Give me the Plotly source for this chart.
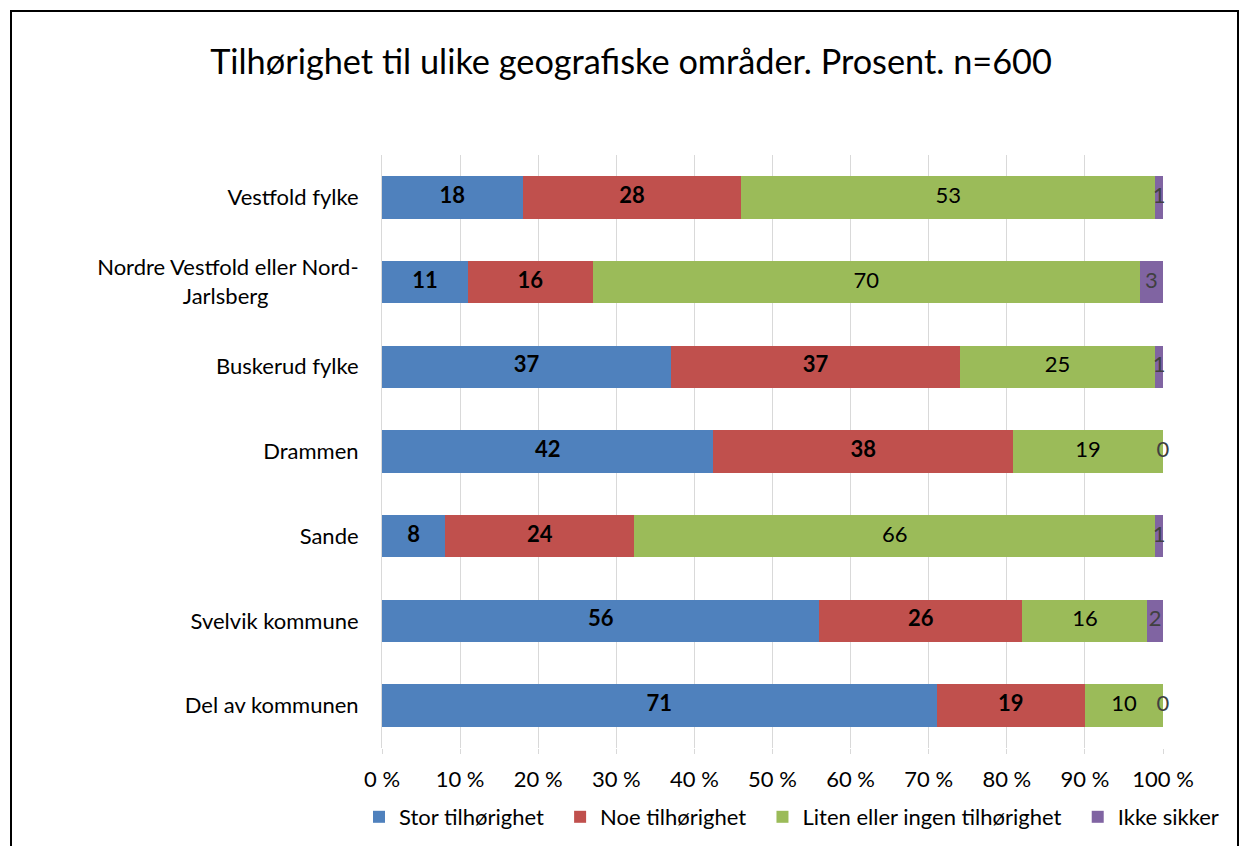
import plotly.graph_objects as go

categories = ["Vestfold fylke", "Nordre Vestfold eller Nord-<br>Jarlsberg", "Buskerud fylke", "Drammen", "Sande",
              "Svelvik kommune", "Del av kommunen"]
series_names = ["Stor tilhørighet", "Noe tilhørighet", "Liten eller ingen tilhørighet", "Ikke sikker"]
stor = [18, 11, 37, 42, 8, 56, 71]
noe = [28, 16, 37, 38, 24, 26, 19]
liten = [53, 70, 25, 19, 66, 16, 10]
ikke = [1, 3, 1, 0, 1, 2, 0]
colors = ["#4F81BD", "#C0504D", "#9BBB59", "#8064A2"]
label_colors = ["#000000", "#000000", "#000000", "#404040"]
label_bold = [True, True, False, False]
tick_vals = [0, 10, 20, 30, 40, 50, 60, 70, 80, 90, 100]
tick_text = [f"{v} %" for v in tick_vals]

NB = "\u00a0"
# pad second line of the two-line label so it appears centred
categories[1] = "Nordre Vestfold eller Nord-<br>Jarlsberg" + NB * 16
# extra spacing between legend entries
legend_names = [n + NB * 2 if k < 3 else n for k, n in enumerate(series_names)]

FONT = "Lato, Carlito, Calibri, sans-serif"
FS = 22
W, H = 1242, 846
ML, MR, MT, MB = 382, 79, 155, 98

fig = go.Figure()
all_series = [stor, noe, liten, ikke]
for i, (name, vals) in enumerate(zip(legend_names, all_series)):
    fig.add_trace(go.Bar(
        y=categories, x=vals, name=name, orientation="h",
        marker=dict(color=colors[i], line=dict(width=0)),
        textposition="none",
        hoverinfo="skip",
    ))

# segment labels placed at the centre of each (normalised) segment
totals = [sum(t) for t in zip(*all_series)]
cum = [0] * len(categories)
for i, vals in enumerate(all_series):
    xs = []
    for j, v in enumerate(vals):
        xs.append((cum[j] + v / 2) / totals[j] * 100)
        cum[j] += v
    txt = [f"<b>{v}</b>" if label_bold[i] else str(v) for v in vals]
    fig.add_trace(go.Scatter(
        x=xs, y=categories, mode="text", text=txt,
        textposition="middle center",
        textfont=dict(family=FONT, size=FS, color=label_colors[i]),
        showlegend=False, hoverinfo="skip", cliponaxis=False,
    ))

pw = W - ML - MR
ph = H - MT - MB
fig.add_shape(type="rect", xref="paper", yref="paper",
              x0=(11 - ML) / pw, x1=(1238 - ML) / pw,
              y0=(H - MB - 870) / ph, y1=(H - MB - 11) / ph,
              line=dict(color="#000000", width=2), fillcolor="rgba(0,0,0,0)", layer="below")

fig.update_layout(
    width=W, height=H,
    barmode="stack", barnorm="percent", bargap=0.5,
    margin=dict(l=ML, r=MR, t=MT, b=MB, autoexpand=False),
    paper_bgcolor="white", plot_bgcolor="white",
    font=dict(family=FONT, size=FS, color="#000000"),
    title=dict(text="Tilhørighet til ulike geografiske områder. Prosent. n=600",
               x=631 / W, xanchor="center", xref="container",
               y=1 - 62 / H, yanchor="middle", yref="container",
               font=dict(family=FONT, size=34.3, color="#000000")),
    xaxis=dict(range=[0, 100], tickvals=tick_vals, ticktext=tick_text,
               showgrid=True, gridcolor="#D9D9D9", gridwidth=1,
               zeroline=False, showline=False, ticks="outside", ticklen=5,
               tickcolor="#D9D9D9", fixedrange=True,
               ticklabelstandoff=7, tickfont=dict(size=FS)),
    yaxis=dict(categoryorder="array", categoryarray=categories, autorange="reversed",
               showgrid=False, zeroline=False, showline=True, linecolor="#D9D9D9",
               ticks="", ticklabelstandoff=18, tickfont=dict(size=FS), fixedrange=True),
    legend=dict(orientation="h", xref="paper", x=(359 - ML) / pw, xanchor="left",
                yref="paper", y=(H - MB - 817) / ph, yanchor="middle",
                font=dict(size=FS), traceorder="normal", itemwidth=30),
    showlegend=True,
)

fig.write_html("out.html", config={"displayModeBar": False},
               post_script="document.body.style.margin='0';document.body.style.overflow='hidden';")
